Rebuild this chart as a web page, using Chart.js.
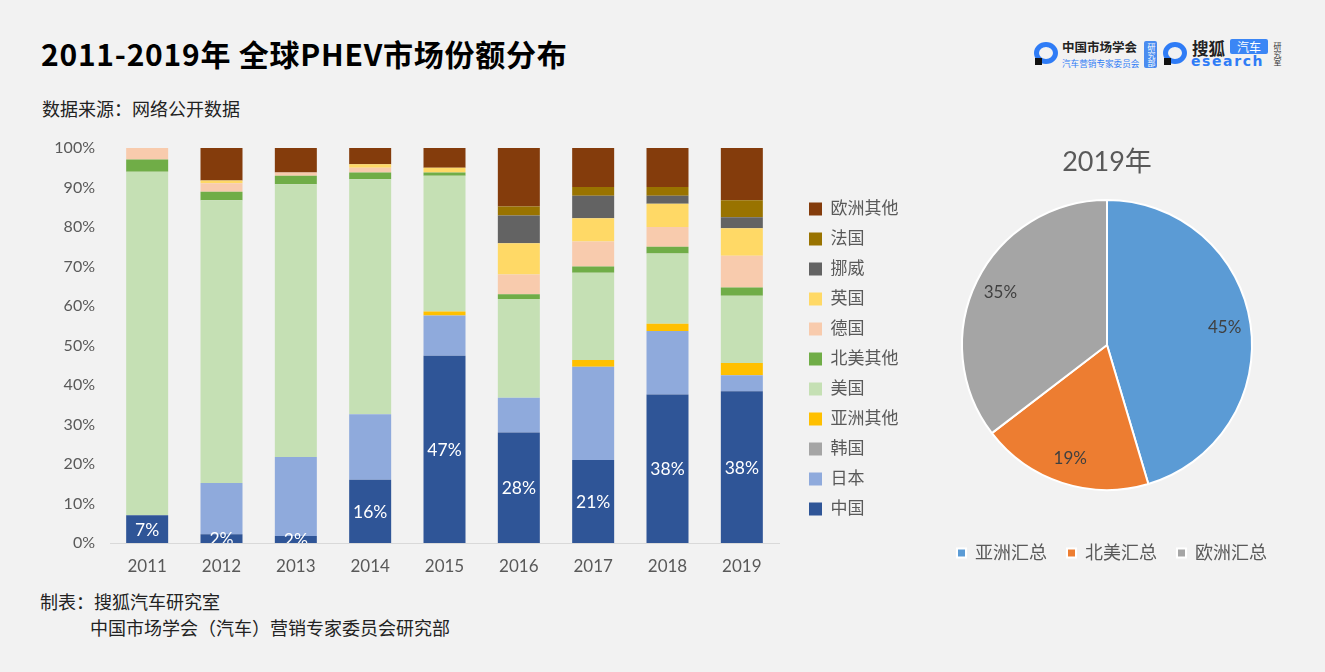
<!DOCTYPE html>
<html><head><meta charset="utf-8">
<script src="https://cdn.jsdelivr.net/npm/chart.js@4"></script>
<style>
body{margin:0;background:#f2f2f2;width:1325px;height:672px;overflow:hidden;position:relative;font-family:'Noto Sans CJK SC',sans-serif;}
.abs{position:absolute;white-space:nowrap;}
#title{left:41px;top:33px;font-size:30px;letter-spacing:0.75px;font-weight:bold;color:#000;line-height:40px;}
#source{left:42px;top:96px;font-size:18px;color:#222;line-height:24px;}
#foot1{left:40px;top:589px;font-size:18px;color:#222;line-height:24px;}
#foot2{left:90px;top:615px;font-size:18px;color:#222;line-height:24px;}
.ring{width:14px;height:12px;border:5px solid #2f7cf6;border-radius:50%;}
.foot{width:7px;height:7px;background:#111;}
.vbox{writing-mode:vertical-rl;font-size:8px;line-height:12px;text-align:center;letter-spacing:0px;}
</style></head><body>
<div class="abs" id="title">2011-2019年 全球PHEV市场份额分布</div>
<div class="abs" id="source">数据来源：网络公开数据</div>
<div class="abs" id="foot1">制表：搜狐汽车研究室</div>
<div class="abs" id="foot2">中国市场学会（汽车）营销专家委员会研究部</div>

<!-- logos -->
<div class="abs ring" style="left:1034px;top:42px;"></div>
<div class="abs foot" style="left:1035px;top:58px;"></div>
<div class="abs" style="left:1062px;top:39px;font-size:12.5px;font-weight:bold;color:#222;line-height:16px;">中国市场学会</div>
<div class="abs" style="left:1062px;top:57px;font-size:8.6px;color:#2f7cf6;line-height:12px;">汽车营销专家委员会</div>
<div class="abs vbox" style="left:1144px;top:41px;width:13px;height:27px;background:#4a8cf0;color:#fff;border-radius:2px;">研究部</div>
<div class="abs ring" style="left:1163px;top:42px;"></div>
<div class="abs foot" style="left:1164px;top:58px;"></div>
<div class="abs" style="left:1192px;top:38px;font-size:16.5px;font-weight:bold;color:#222;line-height:20px;">搜狐</div>
<div class="abs" style="left:1230px;top:39px;width:38px;height:15px;background:#3b86f5;color:#fff;font-size:12px;line-height:15px;text-align:center;border-radius:2px;">汽车</div>
<div class="abs" style="left:1191px;top:53px;font-size:14px;font-weight:bold;color:#2f7cf6;line-height:16px;letter-spacing:1.6px;font-family:'DejaVu Sans',sans-serif;">esearch</div>
<div class="abs vbox" style="left:1271px;top:39px;width:12px;height:29px;color:#333;">研究室</div>

<div class="abs" style="left:40px;top:130px;width:900px;height:470px;"><canvas id="bar" width="900" height="470"></canvas></div>
<div class="abs" style="left:920px;top:140px;width:380px;height:440px;"><canvas id="pie" width="380" height="440"></canvas></div>

<script>
// ---------- data ----------
const years = ['2011','2012','2013','2014','2015','2016','2017','2018','2019'];
const seriesNames = ['中国','日本','韩国','亚洲其他','美国','北美其他','德国','英国','挪威','法国','欧洲其他'];
const china        = [7,   2.2, 1.8, 16,   47.4, 28,   21,   37.6, 38.4];
const japan        = [0,   13,  20,  16.6, 10.2, 8.8,  23.6, 16.1, 4.1];
const korea        = [0,   0,   0,   0,    0,    0,    0,    0,    0];
const asiaOther    = [0,   0,   0,   0,    1.0,  0,    1.7,  1.8,  3.1];
const usa          = [87,  71.6,69,  59.5, 34.4, 25,   22.1, 17.8, 17.0];
const northAmOther = [3.1, 2.1, 2.2, 1.7,  0.8,  1.2,  1.6,  1.7,  2.1];
const germany      = [2.9, 2.2, 0.8, 1.2,  0,    5.0,  6.3,  5.0,  8.0];
const uk           = [0,   0.7, 0,   0.9,  1.2,  7.9,  5.9,  5.9,  7.0];
const norway       = [0,   0,   0,   0,    0,    7.0,  5.7,  2.0,  2.8];
const france       = [0,   0,   0,   0,    0,    2.3,  2.2,  2.2,  4.3];
const euOther      = [0,   8.2, 6.2, 4.1,  5.0,  14.8, 9.9,  9.9,  13.2];
const yTickValues  = [0,10,20,30,40,50,60,70,80,90,100];

const pieTitle  = '2019年';
const pieLabels = ['亚洲汇总','北美汇总','欧洲汇总'];
const pieValues = [45.4, 19.2, 35.4];

// ---------- styles ----------
const seriesColors = ['#2F5597','#8FAADC','#A5A5A5','#FFC000','#C5E0B4','#70AD47','#F8CBAD','#FFD966','#636363','#997300','#843C0C'];
const pieColors = ['#5B9BD5','#ED7D31','#A5A5A5'];

Chart.defaults.font.family = "Lato, 'Noto Sans CJK SC', sans-serif";
Chart.defaults.color = '#595959';

const seriesData = [china, japan, korea, asiaOther, usa, northAmOther, germany, uk, norway, france, euOther];

const barLabelPlugin = {
  id: 'barLabels',
  afterDatasetsDraw(chart) {
    const ctx = chart.ctx, ca = chart.chartArea;
    const meta = chart.getDatasetMeta(0);
    ctx.save();
    ctx.beginPath(); ctx.rect(ca.left, ca.top, ca.right - ca.left, ca.bottom - ca.top); ctx.clip();
    ctx.fillStyle = '#ffffff';
    ctx.font = "17.5px Lato, sans-serif";
    ctx.textAlign = 'center'; ctx.textBaseline = 'middle';
    meta.data.forEach((el, i) => {
      const v = chart.data.datasets[0].data[i];
      ctx.fillText(Math.round(v) + '%', el.x, (el.y + el.base) / 2 + 1);
    });
    ctx.restore();
  }
};
const barLegendPos = {
  id: 'barLegendPos',
  afterLayout(chart) {
    const lg = chart.legend; if (!lg) return;
    const w = lg.width, h = lg.height;
    lg.left = 756; lg.right = 756 + w; lg.top = 57.5; lg.bottom = 57.5 + h;
  }
};

new Chart(document.getElementById('bar'), {
  type: 'bar',
  data: {
    labels: years,
    datasets: seriesNames.map((n, i) => ({
      label: n, data: seriesData[i], backgroundColor: seriesColors[i], borderWidth: 0,
      categoryPercentage: 1, barPercentage: 0.565
    }))
  },
  options: {
    responsive: false, animation: false, devicePixelRatio: 1,
    layout: { padding: { top: 18, right: 161, left: 0, bottom: 0 } },
    scales: {
      x: {
        stacked: true,
        grid: { display: false, drawTicks: false },
        border: { display: true, color: '#d9d9d9', width: 1 },
        ticks: { padding: 13, font: { size: 17 }, color: '#595959' },
        afterFit(s) { s.height = 57; s.paddingLeft = 0; s.paddingRight = 0; }
      },
      y: {
        stacked: true, min: 0, max: 100,
        afterBuildTicks(s) { s.ticks = yTickValues.map(v => ({ value: v })); },
        grid: { display: false, drawTicks: false },
        border: { display: false },
        ticks: { padding: 15, font: { size: 16 }, color: '#595959', callback: v => v + '%' },
        afterFit(s) { s.width = 70; s.paddingTop = 0; s.paddingBottom = 0; }
      }
    },
    plugins: {
      legend: {
        position: 'chartArea', align: 'start', reverse: true,
        labels: { boxWidth: 13, boxHeight: 13, padding: 13, font: { size: 17 }, color: '#595959' }
      },
      tooltip: { enabled: false }
    }
  },
  plugins: [barLabelPlugin, barLegendPos]
});

const pieLabelPlugin = {
  id: 'pieLabels',
  afterDatasetsDraw(chart) {
    const ctx = chart.ctx;
    const meta = chart.getDatasetMeta(0);
    ctx.save();
    ctx.fillStyle = '#404040';
    ctx.font = "17px Lato, sans-serif";
    ctx.textAlign = 'center'; ctx.textBaseline = 'middle';
    meta.data.forEach((arc, i) => {
      const mid = (arc.startAngle + arc.endAngle) / 2;
      const r = arc.outerRadius * 0.82;
      ctx.fillText(Math.round(chart.data.datasets[0].data[i]) + '%', arc.x + Math.cos(mid) * r, arc.y + Math.sin(mid) * r);
    });
    ctx.restore();
  }
};
const pieLegendPos = {
  id: 'pieLegendPos',
  afterLayout(chart) {
    const lg = chart.legend; if (!lg) return;
    const h = lg.height;
    lg.left += 5; lg.right += 5;
    lg.top = 384; lg.bottom = 384 + h;
  }
};

new Chart(document.getElementById('pie'), {
  type: 'pie',
  data: {
    labels: pieLabels,
    datasets: [{ data: pieValues, backgroundColor: pieColors, borderColor: '#ffffff', borderWidth: 2, radius: 145 }]
  },
  options: {
    responsive: false, animation: false, devicePixelRatio: 1,
    layout: { padding: { top: 0, left: 0, right: 6, bottom: 42 } },
    plugins: {
      title: { display: true, text: pieTitle, color: '#595959', font: { size: 27, weight: 'normal' }, padding: { top: 6, bottom: 21.6 } },
      legend: {
        position: 'bottom',
        labels: { boxWidth: 9, boxHeight: 9, padding: 20, font: { size: 18 }, color: '#595959' }
      },
      tooltip: { enabled: false }
    }
  },
  plugins: [pieLabelPlugin, pieLegendPos]
});
</script>
</body></html>
